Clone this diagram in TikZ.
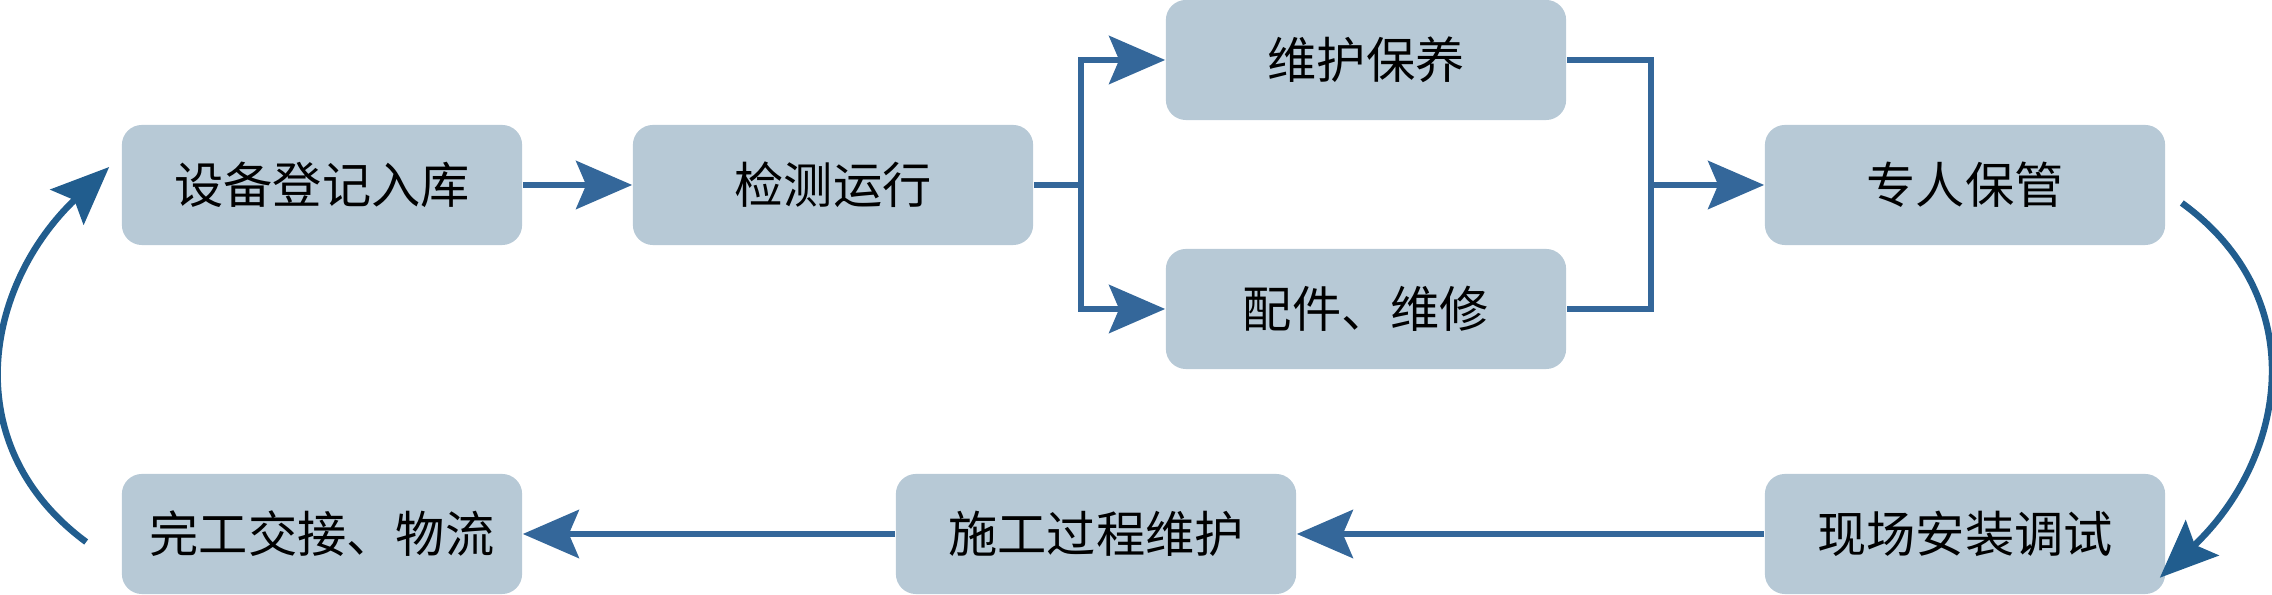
\documentclass[tikz,border=0pt]{standalone}
\usepackage{fontspec}
\newfontfamily\cjk{Noto Sans CJK SC}
\usetikzlibrary{arrows.meta}
\definecolor{boxcol1}{HTML}{B7C9D6}
\definecolor{linecol1}{HTML}{34679A}
\definecolor{linecol2}{HTML}{215D8E}

\begin{document}
\begin{tikzpicture}[x=0.01cm,y=-0.01cm,
	box/.style={fill=boxcol1,rounded corners=0.2cm,minimum width=4cm,minimum height=1.2cm,inner sep=0pt,font=\cjk\fontsize{14pt}{14pt}\selectfont},
	link/.style={draw=linecol1,line width=0.065cm},
	conn/.style={link,-{Stealth[length=0.56cm,width=0.48cm,inset=0.1cm]}},
	loopconn/.style={draw=linecol2,line width=0.065cm,-{Stealth[length=0.58cm,width=0.48cm,inset=0.1cm]}}]
\useasboundingbox (0,0) rectangle (2272,595);
\foreach \n/\x/\y/\t in {reg/322/185/设备登记入库,check/833/185/检测运行,care/1366/60/维护保养,repair/1366/309/配件、维修,store/1965/185/专人保管,install/1965/534/现场安装调试,work/1096/534/施工过程维护,handover/322/534/完工交接、物流}
	\node[box] (\n) at (\x,\y) {\t};
\draw[conn] (reg) -- (check);
\draw[link] (check.east) -- ++(47,0) coordinate (split);
\draw[conn] (split) |- (care);
\draw[conn] (split) |- (repair);
\draw[link] (care.east) -- ++(84,0) coordinate (merge) |- (repair.east);
\draw[conn] (merge |- store) -- (store);
\draw[loopconn] ([shift={(16,18)}]store.east) .. controls (2315,300) and (2285,460) .. ([shift={(-6,-17)}]install.south east);
\draw[conn] (install) -- (work);
\draw[conn] (work) -- (handover);
\draw[loopconn] ([shift={(-35,8)}]handover.west) .. controls (-45,445) and (-15,285) .. ([shift={(-12,-18)}]reg.west);
\end{tikzpicture}
\end{document}
